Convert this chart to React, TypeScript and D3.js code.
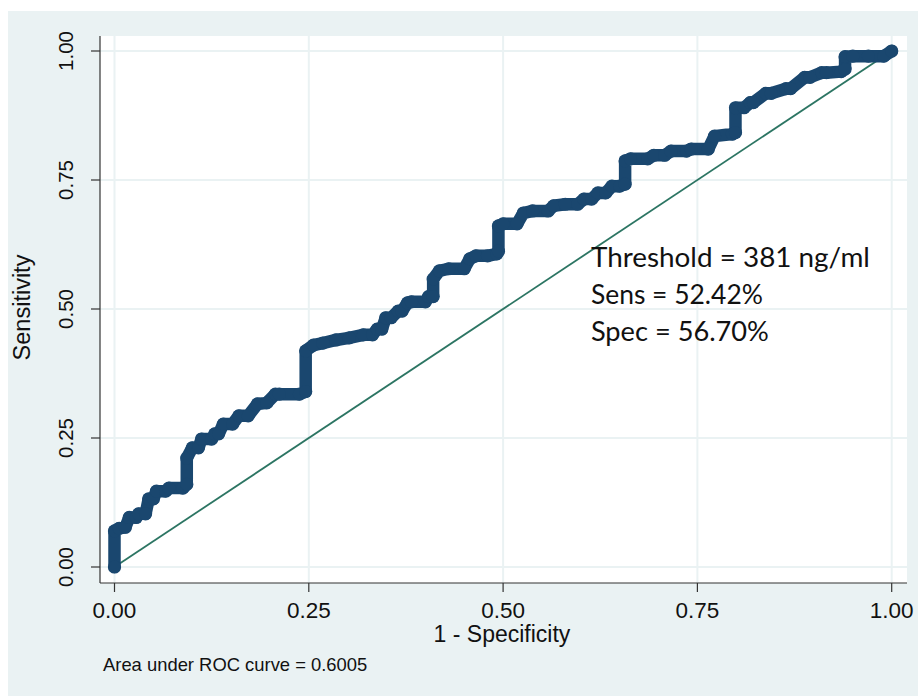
import React from "react";
import * as d3 from "d3";

// ROC curve vertices: 1 - specificity (false positive rate) and sensitivity
const fpr = [
  0.0, 0.0, 0.006, 0.014, 0.019, 0.028, 0.031, 0.04, 0.044, 0.05, 0.054, 0.066, 0.07, 0.088,
  0.093, 0.093, 0.1, 0.108, 0.112, 0.125, 0.129, 0.134, 0.14, 0.152, 0.16, 0.172, 0.184,
  0.196, 0.207, 0.212, 0.238, 0.246, 0.246, 0.256, 0.268, 0.285, 0.302, 0.32, 0.332, 0.338,
  0.344, 0.349, 0.356, 0.365, 0.37, 0.377, 0.382, 0.4, 0.404, 0.41, 0.41, 0.418, 0.43, 0.45,
  0.457, 0.465, 0.48, 0.492, 0.494, 0.494, 0.5, 0.518, 0.526, 0.538, 0.558, 0.565, 0.58,
  0.596, 0.604, 0.614, 0.622, 0.632, 0.64, 0.65, 0.657, 0.657, 0.664, 0.686, 0.694, 0.708,
  0.716, 0.736, 0.742, 0.764, 0.772, 0.795, 0.799, 0.799, 0.81, 0.818, 0.822, 0.838, 0.845,
  0.864, 0.87, 0.888, 0.895, 0.91, 0.916, 0.935, 0.94, 0.94, 0.95, 0.97, 0.99, 1.0,
];
const tpr = [
  0.0, 0.07, 0.075, 0.077, 0.096, 0.096, 0.103, 0.103, 0.132, 0.132, 0.147, 0.147, 0.153,
  0.153, 0.16, 0.211, 0.231, 0.231, 0.248, 0.248, 0.258, 0.258, 0.277, 0.277, 0.293, 0.293,
  0.316, 0.318, 0.335, 0.335, 0.335, 0.34, 0.419, 0.43, 0.434, 0.44, 0.444, 0.45, 0.45, 0.461,
  0.461, 0.483, 0.483, 0.496, 0.496, 0.512, 0.514, 0.514, 0.524, 0.524, 0.558, 0.574, 0.578,
  0.578, 0.597, 0.603, 0.603, 0.607, 0.612, 0.661, 0.665, 0.665, 0.686, 0.69, 0.69, 0.7, 0.703,
  0.703, 0.713, 0.713, 0.725, 0.725, 0.738, 0.738, 0.742, 0.787, 0.791, 0.791, 0.798, 0.798,
  0.806, 0.806, 0.81, 0.81, 0.835, 0.839, 0.842, 0.89, 0.89, 0.9, 0.9, 0.918, 0.918, 0.927,
  0.927, 0.949, 0.949, 0.958, 0.958, 0.96, 0.965, 0.989, 0.99, 0.99, 0.99, 1.0,
];

const axisTicks = [0, 0.25, 0.5, 0.75, 1];
const tickLabels = ["0.00", "0.25", "0.50", "0.75", "1.00"];
const xTitle = "1 - Specificity";
const yTitle = "Sensitivity";
const aucNote = "Area under ROC curve = 0.6005";
const annotationLines = ["Threshold = 381 ng/ml", "Sens = 52.42%", "Spec = 56.70%"];

const BG = "#eaf2f3";
const CURVE = "#1a476f";
const REF = "#2c7563";
const SANS = "'Liberation Sans', Arial, sans-serif";

export default function App() {
  const plotLeft = 100;
  const plotRight = 907;
  const plotTop = 36;
  const plotBottom = 583;

  const x = d3.scaleLinear().domain([0, 1]).range([114.5, 891.7]);
  const y = d3.scaleLinear().domain([0, 1]).range([567, 51]);

  const pts: [number, number][] = fpr.map((f, i) => [f, tpr[i]]);
  const line = d3
    .line<[number, number]>()
    .x((d) => x(d[0]))
    .y((d) => y(d[1]));

  const annX = x(0.613);
  const annY = [y(0.582), y(0.51), y(0.438)];
  const annWidths = [279, 172, 178];

  return (
    <svg
      width={918}
      height={696}
      style={{ position: "absolute", left: 0, top: 0, display: "block" }}
    >
      <rect x={0} y={0} width={918} height={696} fill="#ffffff" />
      <rect x={8} y={11} width={910} height={685} fill={BG} />
      <rect
        x={plotLeft}
        y={plotTop}
        width={plotRight - plotLeft}
        height={plotBottom - plotTop}
        fill="#ffffff"
      />

      {/* grid */}
      {axisTicks.map((t) => (
        <line
          key={"gx" + t}
          x1={x(t)}
          x2={x(t)}
          y1={plotTop}
          y2={plotBottom}
          stroke={BG}
          strokeWidth={2}
        />
      ))}
      {axisTicks.map((t) => (
        <line
          key={"gy" + t}
          x1={plotLeft}
          x2={plotRight}
          y1={y(t)}
          y2={y(t)}
          stroke={BG}
          strokeWidth={2}
        />
      ))}

      {/* axes */}
      <line x1={plotLeft} x2={plotLeft} y1={plotTop} y2={plotBottom} stroke="#333" strokeWidth={1.2} />
      <line x1={plotLeft} x2={plotRight} y1={plotBottom} y2={plotBottom} stroke="#333" strokeWidth={1.2} />

      {axisTicks.map((t, i) => (
        <g key={"ty" + t}>
          <line x1={plotLeft - 9} x2={plotLeft} y1={y(t)} y2={y(t)} stroke="#333" strokeWidth={1.2} />
          <text
            transform={`translate(73, ${y(t)}) rotate(-90)`}
            textAnchor="middle"
            fontFamily={SANS}
            fontSize={20.5}
            fill="#111"
          >
            {tickLabels[i]}
          </text>
        </g>
      ))}
      {axisTicks.map((t, i) => (
        <g key={"tx" + t}>
          <line x1={x(t)} x2={x(t)} y1={plotBottom} y2={plotBottom + 9} stroke="#333" strokeWidth={1.2} />
          <text x={x(t)} y={618} textAnchor="middle" fontFamily={SANS} fontSize={22.5} fill="#111">
            {tickLabels[i]}
          </text>
        </g>
      ))}

      <text x={502} y={642} textAnchor="middle" fontFamily={SANS} fontSize={23} fill="#111">
        {xTitle}
      </text>
      <text
        transform="translate(30, 307.5) rotate(-90)"
        textAnchor="middle"
        fontFamily={SANS}
        fontSize={23.5}
        fill="#111"
      >
        {yTitle}
      </text>
      <text x={103} y={671} fontFamily={SANS} fontSize={18.4} fill="#111">
        {aucNote}
      </text>

      {/* reference diagonal */}
      <line x1={x(0)} y1={y(0)} x2={x(1)} y2={y(1)} stroke={REF} strokeWidth={1.8} />

      {/* ROC curve */}
      <path
        d={line(pts) || ""}
        fill="none"
        stroke={CURVE}
        strokeWidth={12.5}
        strokeLinejoin="round"
        strokeLinecap="round"
      />
      {pts.map((p, i) => (
        <circle key={"m" + i} cx={x(p[0])} cy={y(p[1])} r={6.6} fill={CURVE} />
      ))}

      {/* threshold annotation */}
      {annotationLines.map((s, i) => (
        <text
          key={"a" + i}
          x={annX}
          y={annY[i]}
          fontFamily="Lato, 'Open Sans', sans-serif"
          fontSize={26}
          textLength={annWidths[i]}
          lengthAdjust="spacingAndGlyphs"
          fill="#111"
        >
          {s}
        </text>
      ))}
    </svg>
  );
}
